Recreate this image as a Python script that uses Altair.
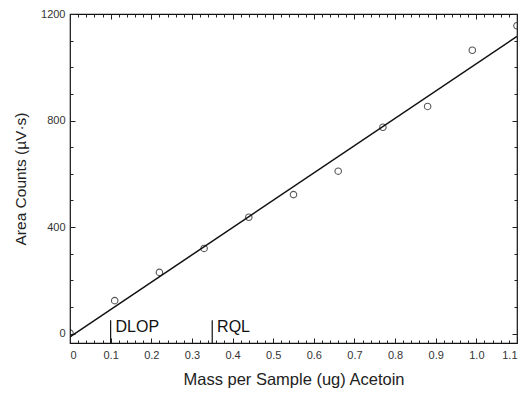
import altair as alt
import pandas as pd

# data
mass = [0.0, 0.11, 0.22, 0.33, 0.44, 0.55, 0.66, 0.77, 0.88, 0.99, 1.10]
area = [2, 124, 230, 320, 437, 522, 610, 775, 853, 1064, 1156]

fit_x = [0.0, 1.1]
fit_y = [-12, 1116]

marker_x = [0.1, 0.35]
marker_lbl = ["DLOP", "RQL"]
marker_top = [50, 50]

x_major = [0.0, 0.1, 0.2, 0.3, 0.4, 0.5, 0.6, 0.7, 0.8, 0.9, 1.0, 1.1]
x_minor = [round(i * 0.02, 3) for i in range(56) if i % 5 != 0]
y_major = [0, 400, 800, 1200]
y_minor = [v for v in range(0, 1201, 100) if v % 400 != 0]

pts = pd.DataFrame({"mass": mass, "area": area})
fit = pd.DataFrame({"mass": fit_x, "area": fit_y})
mk = pd.DataFrame({"mass": marker_x, "label": marker_lbl, "top": marker_top,
                   "bottom": [-35, -35], "ty": [8, 8],
                   "tx": [m + 0.012 for m in marker_x]})

FONT = "Liberation Sans"
xs = alt.Scale(domain=[0, 1.1], nice=False, zero=False)
ys = alt.Scale(domain=[-35, 1200], nice=False, zero=False)

def tick_axis(orient, values, size):
    return alt.Axis(orient=orient, values=values, labels=False, domain=False,
                    grid=False, title=None, ticks=True,
                    tickSize={"expr": str(-size)}, tickColor="#222",
                    tickWidth=1)

def tick_layer(xo, xv, yo, yv, size):
    return alt.Chart(pts).mark_point(opacity=0).encode(
        x=alt.X("mass:Q", scale=xs, axis=tick_axis(xo, xv, size)),
        y=alt.Y("area:Q", scale=ys, axis=tick_axis(yo, yv, size)),
    )

label_layer = alt.Chart(pts).mark_point(opacity=0).encode(
    x=alt.X("mass:Q", scale=xs, axis=alt.Axis(
        orient="bottom", values=x_major, ticks=False, domain=False, grid=False,
        labelExpr="datum.value == 0 ? '0' : format(datum.value, '.1f')",
        labelFont=FONT, labelFontSize=11, labelColor="#333", labelPadding=6,
        title="Mass per Sample (ug) Acetoin", titleFont=FONT, titleFontSize=16.5,
        titleFontWeight="normal", titleColor="#222", titlePadding=11)),
    y=alt.Y("area:Q", scale=ys, axis=alt.Axis(
        orient="left", values=y_major, ticks=False, domain=False, grid=False,
        format="d",
        labelFont=FONT, labelFontSize=11, labelColor="#333", labelPadding=5,
        title="Area Counts (µV·s)", titleFont=FONT, titleFontSize=15.5,
        titleFontWeight="normal", titleColor="#222", titlePadding=12)),
)

points = alt.Chart(pts).mark_point(shape="circle", filled=False, size=42,
                                   color="#111", strokeWidth=1.1, clip=True).encode(
    x=alt.X("mass:Q", scale=xs, axis=None),
    y=alt.Y("area:Q", scale=ys, axis=None),
)

line = alt.Chart(fit).mark_line(color="#111", strokeWidth=1.5, clip=True).encode(
    x=alt.X("mass:Q", scale=xs, axis=None),
    y=alt.Y("area:Q", scale=ys, axis=None),
)

rules = alt.Chart(mk).mark_rule(color="#111", strokeWidth=1.2).encode(
    x=alt.X("mass:Q", scale=xs, axis=None),
    y=alt.Y("bottom:Q", scale=ys, axis=None),
    y2="top:Q",
)

texts = alt.Chart(mk).mark_text(align="left", baseline="alphabetic", font=FONT,
                                fontSize=16, color="#111").encode(
    x=alt.X("tx:Q", scale=xs, axis=None),
    y=alt.Y("ty:Q", scale=ys, axis=None),
    text="label:N",
)

chart = alt.layer(
    label_layer,
    tick_layer("bottom", x_major, "left", y_major, 5),
    tick_layer("bottom", x_minor, "left", y_minor, 3),
    tick_layer("top", x_major, "right", y_major, 5),
    tick_layer("top", x_minor, "right", y_minor, 3),
    line, points, rules, texts,
).resolve_axis(x="independent", y="independent").properties(
    width=447, height=329,
    autosize=alt.AutoSizeParams(type="none"),
    padding={"left": 62, "top": 6, "right": 6, "bottom": 50},
).configure_view(stroke="#111", strokeWidth=1.2)

chart.save("out.html", embed_options={"renderer": "svg", "actions": False})
